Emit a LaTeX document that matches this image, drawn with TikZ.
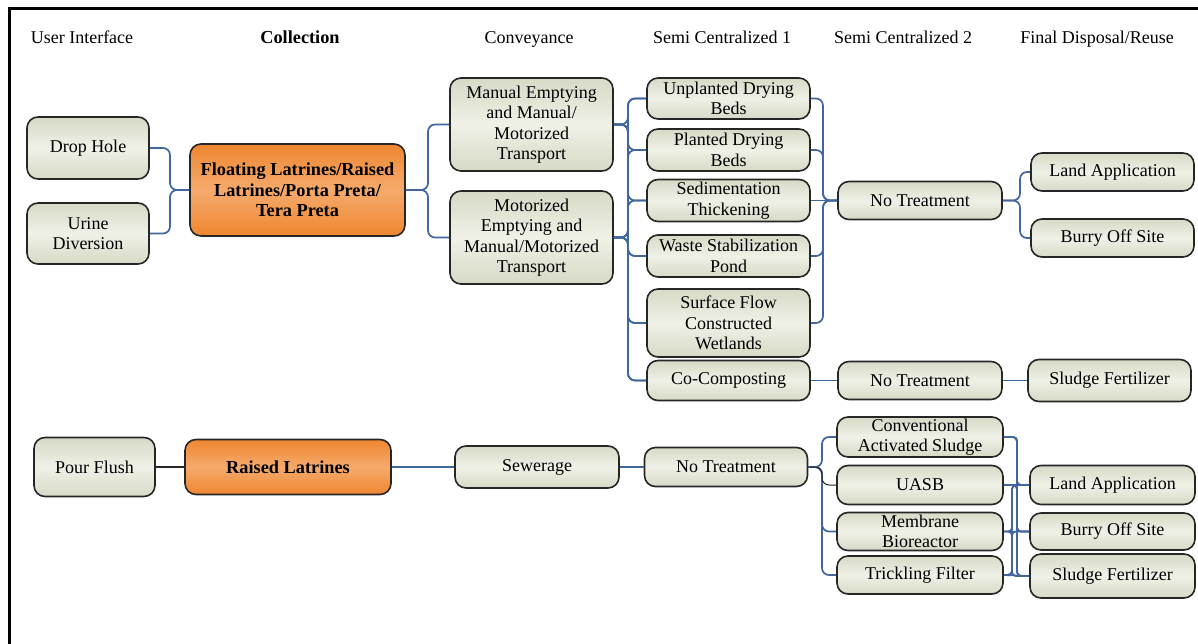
\documentclass[tikz,border=0pt]{standalone}
\usepackage{fontspec}
\setmainfont{Liberation Serif}
\begin{document}
\begin{tikzpicture}[x=1pt,y=-1pt,
  txt/.style={font=\fontsize{18}{20.5}\selectfont, align=center, inner sep=0pt},
  box/.style={txt, draw=black!85, line width=1.6pt, rounded corners=11pt,
    top color=boxedge, bottom color=boxedge, middle color=boxmid},
  obox/.style={box, font=\fontsize{18.3}{20.5}\selectfont\bfseries,
    top color=orgedge, bottom color=orgedge, middle color=orgmid},
  link/.style={draw=linkblue, line width=1.7pt, rounded corners=7pt},
  slink/.style={link, rounded corners=4pt},
  blink/.style={draw=black!85, line width=1.4pt, rounded corners=7pt},
  head/.style={txt, anchor=base}
]
\definecolor{boxedge}{RGB}{214,218,198}
\definecolor{boxmid}{RGB}{239,241,230}
\definecolor{orgedge}{RGB}{238,134,48}
\definecolor{orgmid}{RGB}{245,170,108}
\definecolor{linkblue}{RGB}{66,102,158}

\useasboundingbox (0,0) rectangle (1198,644);
% frame
\draw[line width=3pt] (9.5,644) -- (9.5,8.5) -- (1198,8.5);

% column headings
\node[head] (h1) at (82,43.5) {User Interface};
\node[head, font=\fontsize{18.3}{20.5}\selectfont\bfseries] (h2) at (300,43.5) {Collection};
\node[head] (h3) at (529,43.5) {Conveyance};
\node[head] (h4) at (722,43.5) {Semi Centralized 1};
\node[head] (h5) at (903,43.5) {Semi Centralized 2};
\node[head] (h6) at (1097,43.5) {Final Disposal/Reuse};

% upper chain
\node[box, minimum width=122pt, minimum height=62pt] (drop) at (88,148) {Drop Hole};
\node[box, minimum width=122pt, minimum height=61pt] (urine) at (88,233.5) {Urine\\Diversion};
\node[obox, minimum width=215pt, minimum height=92pt] (float) at (297.5,190) {Floating Latrines/Raised\\Latrines/Porta Preta/\\Tera Preta};
\node[box, minimum width=163pt, minimum height=93pt] (manual) at (531.5,124.5) {Manual Emptying\\and Manual/\\Motorized\\Transport};
\node[box, minimum width=163pt, minimum height=93pt] (motor) at (531.5,237.5) {Motorized\\Emptying and\\Manual/Motorized\\Transport};

\node[box, minimum width=163pt, minimum height=41pt] (unpl) at (728.5,98.5) {Unplanted Drying\\Beds};
\node[box, minimum width=163pt, minimum height=42pt] (plan) at (728.5,150) {Planted Drying\\Beds};
\node[box, minimum width=163pt, minimum height=42pt] (sedi) at (728.5,200.5) {Sedimentation\\Thickening};
\node[box, minimum width=163pt, minimum height=42pt] (waste) at (728.5,256) {Waste Stabilization\\Pond};
\node[box, minimum width=163pt, minimum height=68pt] (surf) at (728.5,323) {Surface Flow\\Constructed\\Wetlands};
\node[box, minimum width=163pt, minimum height=40pt] (cocom) at (728.5,380.5) {Co-Composting};

\node[box, minimum width=164pt, minimum height=38pt] (nt1) at (920,200.5) {No Treatment};
\node[box, minimum width=164pt, minimum height=38pt] (nt2) at (920,380.5) {No Treatment};
\node[box, minimum width=163pt, minimum height=38pt] (land1) at (1112.5,172) {Land Application};
\node[box, minimum width=163pt, minimum height=38pt] (burry1) at (1112.5,238) {Burry Off Site};
\node[box, minimum width=163pt, minimum height=42pt] (sludge1) at (1109.5,380.5) {Sludge Fertilizer};

% lower chain
\node[box, minimum width=121pt, minimum height=59pt] (pour) at (94.5,467) {Pour Flush};
\node[obox, minimum width=206pt, minimum height=55pt] (raised) at (288,467) {Raised Latrines};
\node[box, minimum width=164pt, minimum height=42pt] (sewer) at (537,467) {Sewerage};
\node[box, minimum width=163pt, minimum height=39pt] (nt3) at (726,467) {No Treatment};
\node[box, minimum width=166pt, minimum height=40pt] (conv) at (920,437) {Conventional\\Activated Sludge};
\node[box, minimum width=166pt, minimum height=39pt] (uasb) at (920,485) {UASB};
\node[box, minimum width=166pt, minimum height=38pt] (memb) at (920,531.5) {Membrane\\Bioreactor};
\node[box, minimum width=166pt, minimum height=38pt] (trick) at (920,575) {Trickling Filter};
\node[box, minimum width=165pt, minimum height=39pt] (land2) at (1112.5,485) {Land Application};
\node[box, minimum width=165pt, minimum height=37pt] (burry2) at (1112.5,531.5) {Burry Off Site};
\node[box, minimum width=165pt, minimum height=44pt] (sludge2) at (1112.5,576) {Sludge Fertilizer};

% bus positions of the elbow connectors
\coordinate (bA) at (170,0);
\coordinate (bB) at (428,0);
\coordinate (bC) at (628,0);
\coordinate (bD) at (823,0);
\coordinate (bE) at (1020,0);
\coordinate (bF) at (822,0);
\coordinate (bG) at (1017,0);
\coordinate (bH) at (1012,0);

% upper connectors
\foreach \s in {drop,urine}
  \draw[link] (\s.east) -- (\s.east -| bA) |- (float.west);
\foreach \t in {manual,motor}
  \draw[link] (float.east) -- (float.east -| bB) |- (\t.west);
\foreach \s in {manual,motor}
  \foreach \t in {unpl,plan,sedi,waste,surf,cocom}
    \draw[link] (\s.east) -- (\s.east -| bC) |- (\t.west);
\foreach \s in {unpl,plan,waste,surf}
  \draw[link] (\s.east) -- (\s.east -| bD) |- (nt1.west);
\draw[link] (sedi.east) -- (nt1.west);
\draw[link] (cocom.east) -- (nt2.west);
\draw[link] (nt2.east) -- (sludge1.west);
\foreach \t in {land1,burry1}
  \draw[link] (nt1.east) -- (nt1.east -| bE) |- (\t.west);

% lower connectors
\draw[blink] (pour.east) -- (raised.west);
\draw[link] (raised.east) -- (sewer.west);
\draw[link] (sewer.east) -- (nt3.west);
\foreach \t in {conv,memb,trick}
  \draw[link] (nt3.east) -- (nt3.east -| bF) |- (\t.west);
\draw[blink, line width=1pt] (nt3.east) -- (nt3.east -| bF) |- (uasb.west);
\foreach \s/\t in {conv/land2,conv/burry2,conv/sludge2,uasb/burry2,uasb/sludge2}
  \draw[slink] (\s.east) -- (\s.east -| bG) |- (\t.west);
\draw[slink] (uasb.east) -- (land2.west);
\foreach \s/\t in {memb/land2,memb/sludge2,trick/land2,trick/burry2}
  \draw[slink] (\s.east) -- (\s.east -| bH) |- (\t.west);
\draw[slink] (memb.east) -- (burry2.west);
\draw[slink] (trick.east) -- (sludge2.west);
\end{tikzpicture}
\end{document}
